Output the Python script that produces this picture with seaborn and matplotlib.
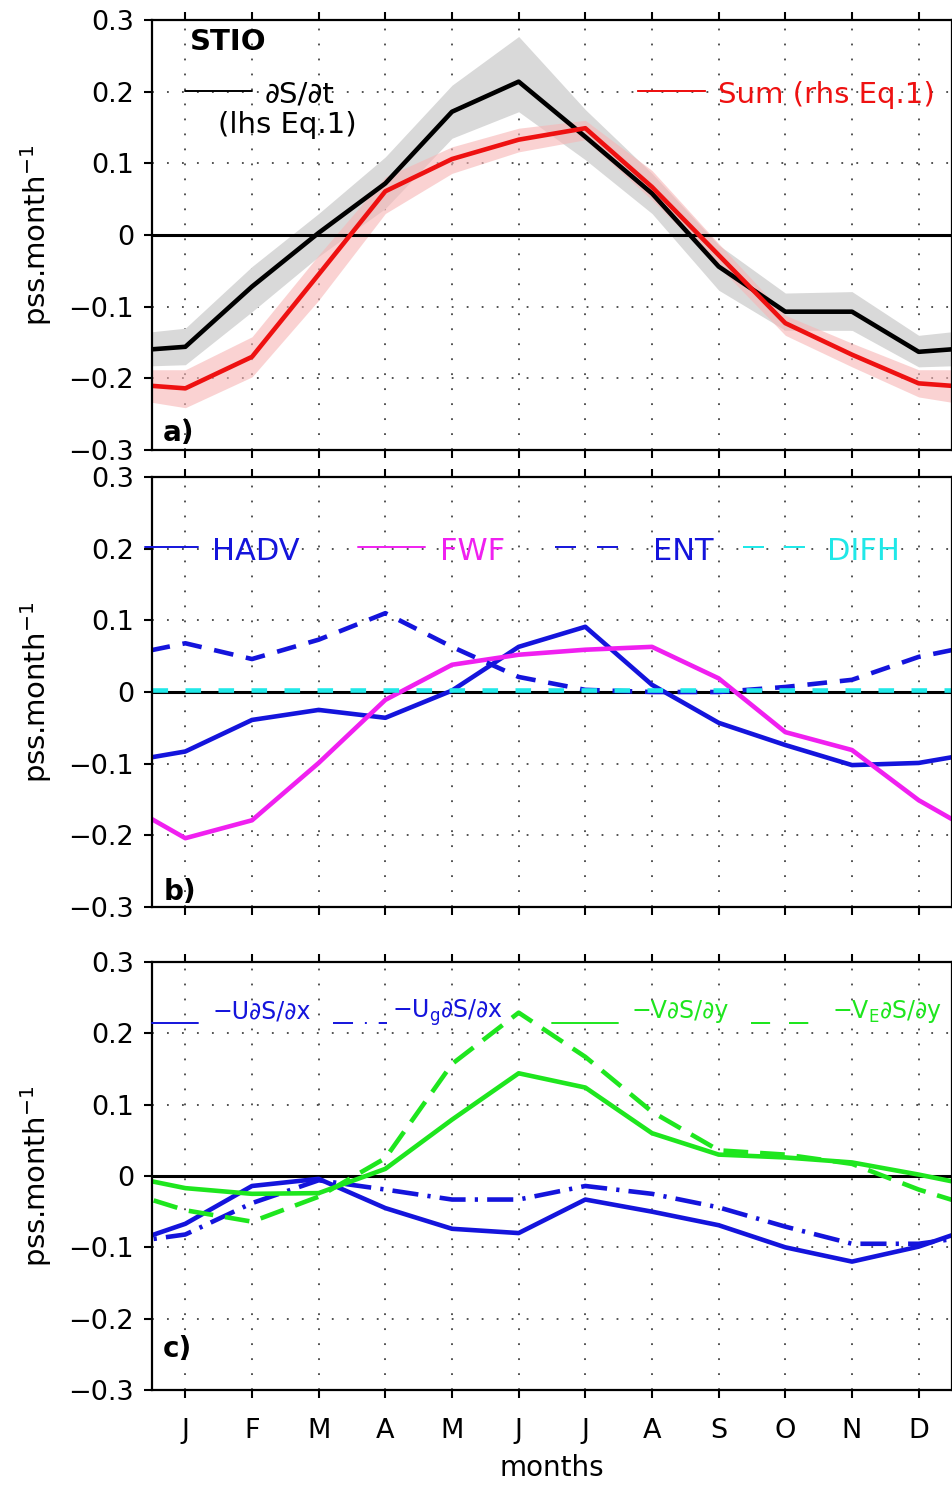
import numpy as np
import pandas as pd
import matplotlib
matplotlib.use("Agg")
import matplotlib.pyplot as plt
import seaborn as sns
from matplotlib.lines import Line2D

# ---------------- data ----------------
months = ["J", "F", "M", "A", "M", "J", "J", "A", "S", "O", "N", "D"]
yticks = [-0.3, -0.2, -0.1, 0, 0.1, 0.2, 0.3]
ytick_labels = ["\u22120.3", "\u22120.2", "\u22120.1", "0", "0.1", "0.2", "0.3"]

# panel a
dsdt = [-0.156, -0.072, 0.003, 0.072, 0.172, 0.214, 0.137, 0.058, -0.044, -0.107, -0.107, -0.163]
dsdt_hi = [-0.130, -0.044, 0.030, 0.109, 0.209, 0.277, 0.175, 0.086, -0.014, -0.081, -0.079, -0.140]
dsdt_lo = [-0.181, -0.107, -0.030, 0.037, 0.135, 0.172, 0.105, 0.030, -0.077, -0.133, -0.133, -0.184]
rhs_sum = [-0.214, -0.170, -0.055, 0.061, 0.106, 0.133, 0.149, 0.067, -0.028, -0.123, -0.167, -0.207]
rhs_hi = [-0.188, -0.142, -0.028, 0.081, 0.123, 0.149, 0.160, 0.090, -0.012, -0.112, -0.151, -0.188]
rhs_lo = [-0.241, -0.198, -0.091, 0.030, 0.086, 0.116, 0.133, 0.049, -0.044, -0.140, -0.184, -0.226]

# panel b
hadv = [-0.083, -0.039, -0.025, -0.036, 0.002, 0.063, 0.091, 0.010, -0.043, -0.074, -0.102, -0.099]
fwf = [-0.204, -0.179, -0.099, -0.011, 0.038, 0.052, 0.059, 0.063, 0.019, -0.056, -0.081, -0.151]
ent = [0.068, 0.046, 0.073, 0.110, 0.063, 0.021, 0.003, 0.000, 0.000, 0.007, 0.017, 0.049]
difh = [0.003, 0.003, 0.003, 0.003, 0.003, 0.003, 0.003, 0.003, 0.003, 0.003, 0.003, 0.003]

# panel c
u_dsdx = [-0.067, -0.014, -0.004, -0.045, -0.074, -0.080, -0.033, -0.050, -0.069, -0.100, -0.120, -0.099]
ug_dsdx = [-0.082, -0.038, -0.006, -0.019, -0.033, -0.033, -0.014, -0.025, -0.044, -0.071, -0.095, -0.095]
v_dsdy = [-0.017, -0.025, -0.024, 0.010, 0.079, 0.144, 0.124, 0.060, 0.030, 0.026, 0.019, 0.002]
ve_dsdy = [-0.048, -0.064, -0.029, 0.025, 0.157, 0.229, 0.167, 0.090, 0.036, 0.030, 0.017, -0.019]

# ---------------- style ----------------
sns.set_theme(style="ticks")
plt.rcParams["font.family"] = ["DejaVu Sans"]
plt.rcParams["mathtext.fontset"] = "dejavusans"
plt.rcParams["mathtext.default"] = "regular"
plt.rcParams["axes.unicode_minus"] = True

BLUE = "#1414dc"
MAGENTA = "#f020f0"
CYAN = "#20e8e8"
GREEN = "#1ee61e"
RED = "#ee1111"
LW = 3.3

W, H = 953, 1485
fig = plt.figure(figsize=(W / 100, H / 100), dpi=100)


def axes_px(top, bottom, left=152, right=952):
    return fig.add_axes([left / W, 1 - bottom / H, (right - left) / W, (bottom - top) / H])


ax_a = axes_px(20, 450)
ax_b = axes_px(477, 907)
ax_c = axes_px(962, 1390)

xw = np.arange(0, 14)


def wrap(v):
    v = np.asarray(v, dtype=float)
    return np.r_[v[-1], v, v[0]]


def style_axes(ax, show_xlabels=False):
    ax.set_xlim(0.5, 12.5)
    ax.set_ylim(-0.3, 0.3)
    ax.set_xticks(range(1, 13))
    ax.set_yticks(yticks)
    ax.set_yticklabels(ytick_labels)
    ax.set_axisbelow(True)
    ax.grid(True, color="#444444", lw=1.3, linestyle=(0, (1, 7.3)))
    ax.axhline(0, color="black", lw=2.2, zorder=1.9)
    for s in ax.spines.values():
        s.set_visible(True)
        s.set_linewidth(1.6)
        s.set_color("black")
    ax.tick_params(axis="both", direction="out", length=6, width=1.5, color="black",
                   top=True, right=True, labelsize=19.5, labelcolor="black")
    ax.tick_params(axis="y", pad=7)
    ax.tick_params(axis="x", pad=14)
    ax.set_ylabel("pss.month$^{-1}$", fontsize=21, labelpad=10, color="black")
    if show_xlabels:
        ax.set_xticklabels(months)
        ax.set_xlabel("months", fontsize=20, labelpad=7, color="black")
    else:
        ax.set_xticklabels([])
        ax.set_xlabel("")


def key(ax, x0, y, length_px, color, lw=1.4, dashes=None):
    fs = 10
    h = Line2D([], [], color=color, lw=lw)
    if dashes is not None:
        h.set_dashes(dashes)
    leg = ax.legend([h], [""], loc="center left", bbox_to_anchor=(x0, y),
                    frameon=False, fontsize=fs, borderpad=0, borderaxespad=0,
                    handlelength=length_px / (fs * 1.389), handletextpad=0)
    ax.add_artist(leg)


def line(ax, v, color, lw=LW, dashes=None):
    kw = {}
    if dashes is not None:
        kw["linestyle"] = (0, dashes)
    sns.lineplot(x=xw, y=wrap(v), ax=ax, color=color, linewidth=lw, sort=False,
                 errorbar=None, **kw)


# ---------------- panel a ----------------
ax = ax_a
ax.fill_between(xw, wrap(dsdt_lo), wrap(dsdt_hi), color="#d9d9d9", lw=0, zorder=1)
ax.fill_between(xw, wrap(rhs_lo), wrap(rhs_hi), color="#f7b5b5", alpha=0.6, lw=0, zorder=1.1)
line(ax, dsdt, "black")
line(ax, rhs_sum, RED)
style_axes(ax)
ax.text(0.0475, 0.930, "STIO", transform=ax.transAxes, fontsize=21, fontweight="bold",
        va="baseline", ha="left", color="black")
key(ax, 0.041, 0.833, 67, "black")
ax.text(0.141, 0.807, "\u2202S/\u2202t", transform=ax.transAxes, fontsize=21,
        va="baseline", ha="left", color="black")
ax.text(0.0825, 0.737, "(lhs Eq.1)", transform=ax.transAxes, fontsize=21,
        va="baseline", ha="left", color="black")
key(ax, 0.6075, 0.833, 67, RED)
ax.text(0.7075, 0.807, "Sum (rhs Eq.1)", transform=ax.transAxes, fontsize=21,
        va="baseline", ha="left", color=RED)
ax.text(0.014, 0.021, "a)", transform=ax.transAxes, fontsize=20, fontweight="bold",
        va="baseline", ha="left", color="black")

# ---------------- panel b ----------------
ax = ax_b
line(ax, hadv, BLUE)
line(ax, fwf, MAGENTA)
line(ax, ent, BLUE, dashes=(4.3, 2.8))
line(ax, difh, CYAN, dashes=(3.4, 3.8))
style_axes(ax)
key(ax, -0.009, 0.835, 53, BLUE)
ax.text(0.075, 0.807, "HADV", transform=ax.transAxes, fontsize=22, va="baseline", color=BLUE)
key(ax, 0.2575, 0.835, 67, MAGENTA)
ax.text(0.36, 0.807, "FWF", transform=ax.transAxes, fontsize=22, va="baseline", color=MAGENTA)
key(ax, 0.504, 0.835, 63, BLUE, dashes=(10.8, 10.8))
ax.text(0.626, 0.807, "ENT", transform=ax.transAxes, fontsize=22, va="baseline", color=BLUE)
key(ax, 0.739, 0.835, 62, CYAN, dashes=(10.8, 10.2))
ax.text(0.844, 0.807, "DIFH", transform=ax.transAxes, fontsize=22, va="baseline", color=CYAN)
ax.text(0.014, 0.016, "b)", transform=ax.transAxes, fontsize=20, fontweight="bold",
        va="baseline", ha="left", color="black")

# ---------------- panel c ----------------
ax = ax_c
line(ax, u_dsdx, BLUE)
line(ax, ug_dsdx, BLUE, dashes=(5.7, 2.0, 0.7, 2.0))
line(ax, v_dsdy, GREEN)
line(ax, ve_dsdy, GREEN, dashes=(5.4, 2.6))
style_axes(ax, show_xlabels=True)
key(ax, 0.0, 0.855, 46, BLUE)
ax.text(0.076, 0.869, "\u2212U\u2202S/\u2202x", transform=ax.transAxes, fontsize=17,
        va="baseline", color=BLUE)
key(ax, 0.226, 0.855, 54, BLUE, dashes=(10.3, 6.1, 1.0, 6.1))
ax.text(0.30, 0.869, "\u2212U$_g$\u2202S/\u2202x", transform=ax.transAxes, fontsize=17,
        va="baseline", color=BLUE)
key(ax, 0.5, 0.855, 66, GREEN)
ax.text(0.60, 0.869, "\u2212V\u2202S/\u2202y", transform=ax.transAxes, fontsize=17,
        va="baseline", color=GREEN)
key(ax, 0.749, 0.855, 62, GREEN, dashes=(9.8, 9.8))
ax.text(0.85, 0.869, "\u2212V$_E$\u2202S/\u2202y", transform=ax.transAxes, fontsize=17,
        va="baseline", color=GREEN)
ax.text(0.014, 0.077, "c)", transform=ax.transAxes, fontsize=20, fontweight="bold",
        va="baseline", ha="left", color="black")

fig.savefig("out.png", dpi=100)
